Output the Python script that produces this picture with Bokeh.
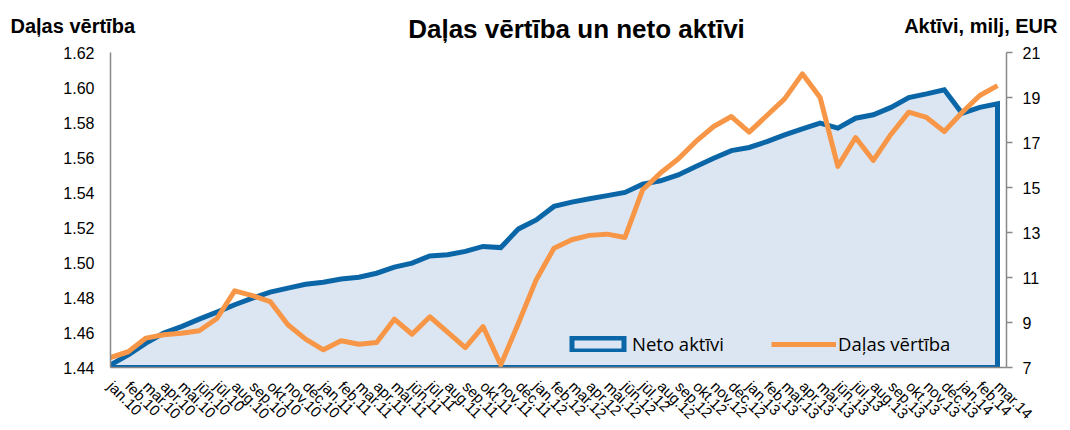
from math import pi
from bokeh.plotting import figure
from bokeh.layouts import column
from bokeh.models import Range1d, LinearAxis, FixedTicker, Legend, LegendItem, NumeralTickFormatter
from bokeh.core.properties import value
from bokeh.embed import file_html
from bokeh.resources import INLINE

labels = ["jan.10", "feb.10", "mar.10", "apr.10", "mai.10", "jūn.10", "jūl.10", "aug.10",
          "sep.10", "okt.10", "nov.10", "dec.10",
          "jan.11", "feb.11", "mar.11", "apr.11", "mai.11", "jūn.11", "jūl.11", "aug.11",
          "sep.11", "okt.11", "nov.11", "dec.11",
          "jan.12", "feb.12", "mar.12", "apr.12", "mai.12", "jūn.12", "jūl.12", "aug.12",
          "sep.12", "okt.12", "nov.12", "dec.12",
          "jan.13", "feb.13", "mar.13", "apr.13", "mai.13", "jūn.13", "jūl.13", "aug.13",
          "sep.13", "okt.13", "nov.13", "dec.13",
          "jan.14", "feb.14", "mar.14"]

# Neto aktīvi, milj. EUR (right axis)
neto = [7.12, 7.56, 8.08, 8.53, 8.82, 9.15, 9.46, 9.79, 10.08, 10.35, 10.53, 10.70,
        10.79, 10.93, 11.01, 11.19, 11.46, 11.64, 11.96, 12.01, 12.16, 12.38, 12.33, 13.16,
        13.56, 14.16, 14.35, 14.50, 14.64, 14.78, 15.15, 15.30, 15.56, 15.93, 16.30, 16.64,
        16.78, 17.04, 17.34, 17.61, 17.86, 17.64, 18.08, 18.23, 18.56, 19.00, 19.16, 19.34,
        18.30, 18.56, 18.72]

# Daļas vērtība (left axis)
dalas = [1.4457, 1.4490, 1.4568, 1.4587, 1.4596, 1.4610, 1.4680, 1.4838, 1.4811, 1.4777,
         1.4644, 1.4562, 1.4501, 1.4553, 1.4533, 1.4543, 1.4676, 1.4590, 1.4690, 1.4602,
         1.4514, 1.4634, 1.4415, 1.4654, 1.4902, 1.5082, 1.5130, 1.5155, 1.5162, 1.5143,
         1.5416, 1.5511, 1.5591, 1.5692, 1.5777, 1.5834, 1.5745, 1.5840, 1.5935, 1.6078,
         1.5943, 1.5549, 1.5714, 1.5583, 1.5733, 1.5859, 1.5829, 1.5749, 1.5857, 1.5954,
         1.6011]

left_ticks = [1.44, 1.46, 1.48, 1.50, 1.52, 1.54, 1.56, 1.58, 1.60, 1.62]
right_ticks = [7, 9, 11, 13, 15, 17, 19, 21]

title_text = "Daļas vērtība un neto aktīvi"
left_title = "Daļas vērtība"
right_title = "Aktīvi, milj, EUR"

BLUE = "#0B66A8"
ORANGE = "#F79646"
FILL = "#DCE6F2"
GRAY = "#888888"

W = 1070
TOP_H = 46
MAIN_H = 384

# ---- header strip with the three titles ----
t = figure(width=W, height=TOP_H, output_backend="svg", toolbar_location=None,
           x_range=Range1d(0, W), y_range=Range1d(0, TOP_H),
           x_axis_location=None, y_axis_location=None, min_border=0)
t.frame_align = False
t.grid.visible = False
t.outline_line_color = None
t.text(x=[10], y=[21], text=[left_title], text_font=value("Liberation Sans"),
       text_font_style="bold", text_font_size="20px", text_align="left",
       text_baseline="alphabetic", text_color="black")
t.text(x=[1057], y=[21], text=[right_title], text_font=value("Liberation Sans"),
       text_font_style="bold", text_font_size="20px", text_align="right",
       text_baseline="alphabetic", text_color="black")
t.text(x=[576], y=[18], text=[title_text], text_font=value("Liberation Sans"),
       text_font_style="bold", text_font_size="26px", text_align="center",
       text_baseline="alphabetic", text_color="black")

# ---- main chart ----
x = list(range(len(labels)))

p = figure(width=W, height=MAIN_H, output_backend="svg", toolbar_location=None,
           x_range=Range1d(0, (len(labels) - 1) * 896 / 887),
           y_range=Range1d(left_ticks[0], left_ticks[-1]),
           min_border_left=110, min_border_right=64, min_border_top=6, min_border_bottom=63)
p.frame_align = False
p.extra_y_ranges = {"right": Range1d(right_ticks[0], right_ticks[-1])}
p.xgrid.visible = False
p.ygrid.visible = False
p.outline_line_color = None

xs = x + [x[-1], x[0]]
ys = neto + [right_ticks[0], right_ticks[0]]
area = p.patch(xs, ys, y_range_name="right", fill_color=FILL, line_color=BLUE,
               line_width=5, line_join="miter")

line = p.line(x, dalas, line_color=ORANGE, line_width=5, line_join="round")

yl = p.yaxis[0]
yl.ticker = FixedTicker(ticks=left_ticks)
yl.formatter = NumeralTickFormatter(format="0.00")
yl.major_tick_out = 0
yl.major_tick_in = 0
yl.minor_tick_out = 0
yl.minor_tick_in = 0
yl.axis_line_color = GRAY
yl.axis_line_width = 1.5
yl.major_label_standoff = 16
yl.major_label_text_font = "Liberation Sans"
yl.major_label_text_font_size = "16px"
yl.major_label_text_color = "black"

yr = LinearAxis(y_range_name="right", ticker=FixedTicker(ticks=right_ticks))
yr.major_tick_out = 6
yr.major_tick_in = 0
yr.minor_tick_out = 0
yr.minor_tick_in = 0
yr.axis_line_color = GRAY
yr.axis_line_width = 1.5
yr.major_tick_line_color = GRAY
yr.major_tick_line_width = 1.5
yr.major_label_standoff = 10
yr.major_label_text_font = "Liberation Sans"
yr.major_label_text_font_size = "16px"
yr.major_label_text_color = "black"
p.add_layout(yr, "right")

xa = p.xaxis[0]
xa.ticker = FixedTicker(ticks=x)
xa.major_label_overrides = {i: lab for i, lab in zip(x, labels)}
xa.major_label_orientation = -pi / 4
xa.major_tick_out = 0
xa.major_tick_in = 0
xa.minor_tick_out = 0
xa.minor_tick_in = 0
xa.axis_line_color = GRAY
xa.axis_line_width = 1.5
xa.major_label_standoff = 16
xa.major_label_text_font = "Liberation Sans"
xa.major_label_text_font_size = "15px"
xa.major_label_text_color = "black"

legend = Legend(items=[LegendItem(label="Neto aktīvi", renderers=[area]),
                       LegendItem(label="Daļas vērtība", renderers=[line])],
                orientation="horizontal", location=(455, 11),
                border_line_color=None, background_fill_alpha=0,
                padding=0, margin=0, glyph_width=65, glyph_height=16,
                label_standoff=2, spacing=47, label_height=20,
                label_text_font="Open Sans", label_text_font_size="18.5px",
                label_text_color="black")
p.add_layout(legend)

open("out.html", "w").write(file_html(column(t, p, spacing=0), INLINE))
